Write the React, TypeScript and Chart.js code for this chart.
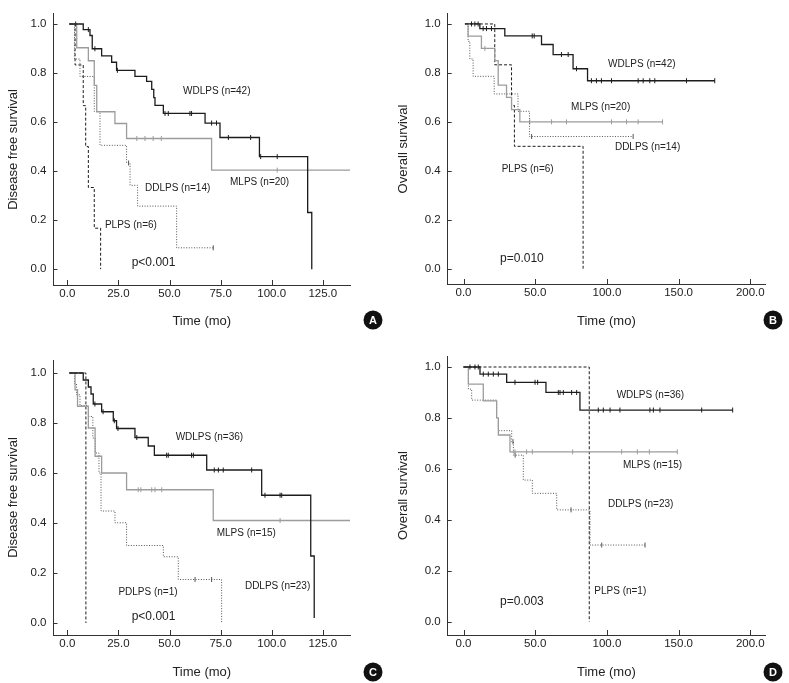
import React, { useEffect, useRef } from "react";
import { Chart, registerables } from "chart.js";
Chart.register(...registerables);

const FONT = "'Liberation Sans', Arial, Helvetica, sans-serif";

// ---------- shared tick values ----------
const Y_TICKS = [0, 0.2, 0.4, 0.6, 0.8, 1.0];
const X_TICKS_DFS = [0, 25, 50, 75, 100, 125];
const X_TICKS_OS = [0, 50, 100, 150, 200];

// ---------- Panel A : disease free survival, cohort 1 ----------
const A_WD_T = [1, 7.8, 11.1, 12.2, 16.8, 21.7, 24.1, 33.1, 38.8, 41.3, 42.3, 42.9, 47, 67.4, 74.7, 94, 117.6, 119.6];
const A_WD_S = [1, 0.977, 0.953, 0.899, 0.87, 0.844, 0.811, 0.786, 0.766, 0.733, 0.7, 0.668, 0.635, 0.596, 0.537, 0.459, 0.231, 0];
const A_WD_C = [4.1, 10.3, 13.5, 24.5, 47.8, 49.4, 60, 60.8, 70.6, 73, 78.8, 89.7, 94.6, 102.7];
const A_ML_T = [1, 4.6, 10.3, 13.2, 14.4, 23.3, 29, 70.6, 139];
const A_ML_S = [1, 0.903, 0.85, 0.75, 0.642, 0.594, 0.533, 0.404, 0.404];
const A_ML_C = [34, 38, 42, 46, 102.7, 139];
const A_DD_T = [1, 3.5, 6.2, 13.2, 16, 29, 30.7, 34.4, 53.5, 71.4];
const A_DD_S = [1, 0.857, 0.786, 0.643, 0.505, 0.433, 0.342, 0.257, 0.087, 0.087];
const A_DD_C = [30, 71.4];
const A_PL_T = [1, 3.8, 7.8, 9, 10.3, 13.2, 16.3];
const A_PL_S = [1, 0.833, 0.667, 0.5, 0.333, 0.167, 0];

// ---------- Panel B : overall survival, cohort 1 ----------
const B_WD_T = [1, 11.4, 28.8, 54.4, 62.5, 76.4, 86.5, 175.2];
const B_WD_S = [1, 0.981, 0.951, 0.916, 0.875, 0.817, 0.768, 0.768];
const B_WD_C = [5.6, 7.9, 10.2, 13.7, 16, 19.5, 47.9, 49.3, 68.3, 73, 78.8, 89.2, 92.7, 96.2, 103.2, 121.8, 125.3, 129.9, 133.4, 155.5, 175.2];
const B_ML_T = [1, 3.2, 12.5, 21.8, 24.2, 30, 33.5, 39.3, 138.8];
const B_ML_S = [1, 0.95, 0.9, 0.85, 0.75, 0.7, 0.65, 0.6, 0.6];
const B_ML_C = [14.9, 46.2, 61.4, 71.8, 103.2, 113.7, 121.8, 138.8];
const B_DD_T = [1, 3.2, 4.4, 6.7, 21.4, 38, 46, 118.3];
const B_DD_S = [1, 0.929, 0.857, 0.786, 0.714, 0.643, 0.54, 0.54];
const B_DD_C = [47.5, 118.3];
const B_PL_T = [1, 21.8, 33.5, 35.5, 83.4];
const B_PL_S = [1, 0.833, 0.667, 0.5, 0];

// ---------- Panel C : disease free survival, cohort 2 ----------
const C_WD_T = [1, 7.8, 10.3, 11.6, 12.7, 16.8, 22.5, 24.1, 33.1, 39.6, 42.6, 68.2, 95.1, 119.1, 120.8];
const C_WD_S = [1, 0.972, 0.944, 0.916, 0.876, 0.845, 0.809, 0.778, 0.742, 0.708, 0.671, 0.612, 0.511, 0.268, 0.02];
const C_WD_C = [13.5, 17.5, 23, 24.8, 34, 48.6, 49.4, 60.8, 61.7, 71.9, 73.9, 76.3, 90.2, 96.7, 104.1, 104.9];
const C_ML_T = [1, 3.8, 5, 10.3, 13.6, 16.8, 29, 71.4, 140];
const C_ML_S = [1, 0.933, 0.867, 0.78, 0.667, 0.6, 0.533, 0.41, 0.41];
const C_ML_C = [34.7, 36, 41.3, 42.9, 46.2, 104.1, 140];
const C_DD_T = [1, 3.5, 4.5, 6.2, 10.3, 12.5, 13.7, 15.5, 16.5, 23.3, 29, 47, 54.3, 75.5];
const C_DD_S = [1, 0.957, 0.913, 0.87, 0.826, 0.74, 0.68, 0.6, 0.448, 0.401, 0.31, 0.265, 0.174, 0];
const C_DD_C = [62.5, 70.6];
const C_PD_T = [1, 9.1];
const C_PD_S = [1, 0];

// ---------- Panel D : overall survival, cohort 2 ----------
const D_WD_T = [0, 11.5, 30.1, 57.5, 81.2, 187.7];
const D_WD_S = [1, 0.972, 0.94, 0.9, 0.831, 0.831];
const D_WD_C = [4.5, 8, 10.3, 13.8, 17.3, 20.8, 24.3, 35.9, 49.9, 51.7, 66.1, 67.3, 69.6, 75.4, 78.9, 94, 97.5, 102.2, 109.1, 130, 132.4, 137, 166.1, 187.7];
const D_ML_T = [0, 3.4, 13.8, 23.1, 24.3, 32.4, 149.1];
const D_ML_S = [1, 0.933, 0.867, 0.8, 0.733, 0.667, 0.667];
const D_ML_C = [35.9, 44, 48, 76.1, 110.3, 121.2, 129.6, 149.1];
const D_DD_T = [0, 3.4, 5.7, 23.1, 24.3, 33.6, 34.8, 41.7, 48, 65, 88.2, 126.6];
const D_DD_S = [1, 0.913, 0.87, 0.8, 0.75, 0.707, 0.654, 0.556, 0.504, 0.439, 0.301, 0.301];
const D_DD_C = [34.5, 36, 75, 96.4, 126.6];
const D_PL_T = [0, 87.7];
const D_PL_S = [1, 0];

// ---------- styles ----------
const STYLE = {
  wd: { color: "#1c1c1c", width: 1.3, dash: [] as number[] },
  ml: { color: "#9c9c9c", width: 1.3, dash: [] as number[] },
  dd: { color: "#555555", width: 1, dash: [1, 1.6] },
  pl: { color: "#1c1c1c", width: 1, dash: [3, 2] },
};

type Series = { t: number[]; s: number[]; c: number[]; st: { color: string; width: number; dash: number[] } };
type Label = { text: string; x: number; y: number; size: number };
type PanelCfg = {
  box: { x: number; y: number; w: number; h: number };
  area: { l: number; r: number; t: number; b: number };
  x0: number; xu: number; y1: number; y0: number;
  xTicks: number[]; yTitle: string;
  series: Series[]; labels: Label[]; badge: string; badgePos: [number, number];
  yTitleX: number; xTitleY: number;
};

const PANELS: PanelCfg[] = [
  {
    box: { x: 0, y: 0, w: 394, h: 341 },
    area: { l: 53.5, r: 350, t: 3, b: 285 },
    x0: 67.3, xu: 2.044, y1: 13.5, y0: 268.5,
    xTicks: X_TICKS_DFS, yTitle: "Disease free survival",
    series: [
      { t: A_WD_T, s: A_WD_S, c: A_WD_C, st: STYLE.wd },
      { t: A_ML_T, s: A_ML_S, c: A_ML_C, st: STYLE.ml },
      { t: A_DD_T, s: A_DD_S, c: A_DD_C, st: STYLE.dd },
      { t: A_PL_T, s: A_PL_S, c: [], st: STYLE.pl },
    ],
    labels: [
      { text: "WDLPS (n=42)", x: 56.6, y: 0.727, size: 10 },
      { text: "MLPS (n=20)", x: 79.6, y: 0.355, size: 10 },
      { text: "DDLPS (n=14)", x: 38, y: 0.331, size: 10 },
      { text: "PLPS (n=6)", x: 18.4, y: 0.178, size: 10 },
      { text: "p<0.001", x: 31.5, y: 0.025, size: 12 },
    ],
    badge: "A", badgePos: [373, 320], yTitleX: 13, xTitleY: 321,
  },
  {
    box: { x: 394, y: 0, w: 395, h: 341 },
    area: { l: 447.7, r: 765, t: 2, b: 284 },
    x0: 463.5, xu: 1.434, y1: 12.5, y0: 268,
    xTicks: X_TICKS_OS, yTitle: "Overall survival",
    series: [
      { t: B_WD_T, s: B_WD_S, c: B_WD_C, st: STYLE.wd },
      { t: B_ML_T, s: B_ML_S, c: B_ML_C, st: STYLE.ml },
      { t: B_DD_T, s: B_DD_S, c: B_DD_C, st: STYLE.dd },
      { t: B_PL_T, s: B_PL_S, c: [], st: STYLE.pl },
    ],
    labels: [
      { text: "WDLPS (n=42)", x: 100.8, y: 0.834, size: 10 },
      { text: "MLPS (n=20)", x: 75, y: 0.658, size: 10 },
      { text: "DDLPS (n=14)", x: 105.6, y: 0.497, size: 10 },
      { text: "PLPS (n=6)", x: 26.6, y: 0.407, size: 10 },
      { text: "p=0.010", x: 25.5, y: 0.039, size: 12 },
    ],
    badge: "B", badgePos: [773, 320], yTitleX: 403.5, xTitleY: 321,
  },
  {
    box: { x: 0, y: 341, w: 394, h: 342 },
    area: { l: 53.5, r: 350, t: 360, b: 635 },
    x0: 67.3, xu: 2.044, y1: 373, y0: 623,
    xTicks: X_TICKS_DFS, yTitle: "Disease free survival",
    series: [
      { t: C_WD_T, s: C_WD_S, c: C_WD_C, st: STYLE.wd },
      { t: C_ML_T, s: C_ML_S, c: C_ML_C, st: STYLE.ml },
      { t: C_DD_T, s: C_DD_S, c: C_DD_C, st: STYLE.dd },
      { t: C_PD_T, s: C_PD_S, c: [], st: STYLE.pl },
    ],
    labels: [
      { text: "WDLPS (n=36)", x: 53, y: 0.745, size: 10 },
      { text: "MLPS (n=15)", x: 73.1, y: 0.361, size: 10 },
      { text: "DDLPS (n=23)", x: 86.9, y: 0.148, size: 10 },
      { text: "PDLPS (n=1)", x: 25, y: 0.124, size: 10 },
      { text: "p<0.001", x: 31.5, y: 0.024, size: 12 },
    ],
    badge: "C", badgePos: [373, 672], yTitleX: 13, xTitleY: 672,
  },
  {
    box: { x: 394, y: 341, w: 395, h: 342 },
    area: { l: 447.7, r: 765, t: 356, b: 635 },
    x0: 463.5, xu: 1.434, y1: 367, y0: 621.7,
    xTicks: X_TICKS_OS, yTitle: "Overall survival",
    series: [
      { t: D_WD_T, s: D_WD_S, c: D_WD_C, st: STYLE.wd },
      { t: D_ML_T, s: D_ML_S, c: D_ML_C, st: STYLE.ml },
      { t: D_DD_T, s: D_DD_S, c: D_DD_C, st: STYLE.dd },
      { t: D_PL_T, s: D_PL_S, c: [], st: STYLE.pl },
    ],
    labels: [
      { text: "WDLPS (n=36)", x: 106.8, y: 0.89, size: 10 },
      { text: "MLPS (n=15)", x: 111.2, y: 0.615, size: 10 },
      { text: "DDLPS (n=23)", x: 100.8, y: 0.462, size: 10 },
      { text: "PLPS (n=1)", x: 91.2, y: 0.118, size: 10 },
      { text: "p=0.003", x: 25.5, y: 0.077, size: 12 },
    ],
    badge: "D", badgePos: [773, 672], yTitleX: 403.5, xTitleY: 672,
  },
];

function stepAt(t: number[], s: number[], x: number) {
  let v = s[0];
  for (let i = 0; i < t.length; i++) {
    if (t[i] <= x) v = s[i];
    else break;
  }
  return v;
}

function Panel({ cfg }: { cfg: PanelCfg }) {
  const ref = useRef<HTMLCanvasElement>(null);
  useEffect(() => {
    const canvas = ref.current!;
    const { box, area } = cfg;
    const L = area.l - box.x, R = area.r - box.x, T = area.t - box.y, B = area.b - box.y;
    const xMin = (area.l - cfg.x0) / cfg.xu;
    const xMax = (area.r - cfg.x0) / cfg.xu;
    const yu = cfg.y0 - cfg.y1;
    const yMax = (cfg.y0 - area.t) / yu;
    const yMin = (cfg.y0 - area.b) / yu;

    const datasets: any[] = [];
    cfg.series.forEach((se) => {
      datasets.push({
        data: se.t.map((t, i) => ({ x: t, y: se.s[i] })),
        borderColor: se.st.color,
        borderWidth: se.st.width,
        borderDash: se.st.dash,
        stepped: "before",
        pointRadius: 0,
        fill: false,
        tension: 0,
      });
    });
    cfg.series.forEach((se) => {
      if (!se.c.length) return;
      datasets.push({
        data: se.c.map((t) => ({ x: t, y: stepAt(se.t, se.s, t) })),
        showLine: false,
        pointStyle: "line",
        pointRotation: 90,
        pointRadius: 2.5,
        pointBorderWidth: 1,
        pointBorderColor: se.st.color,
        pointBackgroundColor: se.st.color,
      });
    });

    const titleFont = { family: FONT, size: 13 };
    const tickFont = { family: FONT, size: 11.5 };
    const lh = 13 * 1.2;

    const decor = {
      id: "decor" + cfg.badge,
      beforeDatasetsDraw(chart: any) {
        const { ctx, chartArea } = chart;
        const xs = chart.scales.x, ys = chart.scales.y;
        ctx.save();
        ctx.strokeStyle = "#333";
        ctx.lineWidth = 1;
        ctx.beginPath();
        xs.ticks.forEach((tk: any) => {
          const px = Math.round(xs.getPixelForValue(tk.value)) + 0.5;
          ctx.moveTo(px, chartArea.bottom);
          ctx.lineTo(px, chartArea.bottom - 5);
        });
        ys.ticks.forEach((tk: any) => {
          const py = Math.round(ys.getPixelForValue(tk.value)) + 0.5;
          ctx.moveTo(chartArea.left, py);
          ctx.lineTo(chartArea.left + 4, py);
        });
        ctx.stroke();
        ctx.restore();
      },
      afterDatasetsDraw(chart: any) {
        const { ctx } = chart;
        const xs = chart.scales.x, ys = chart.scales.y;
        ctx.save();
        ctx.fillStyle = "#222";
        ctx.textAlign = "left";
        ctx.textBaseline = "middle";
        cfg.labels.forEach((lb) => {
          ctx.font = `${lb.size}px ${FONT}`;
          ctx.fillText(lb.text, xs.getPixelForValue(lb.x), ys.getPixelForValue(lb.y));
        });
        const bx = cfg.badgePos[0] - box.x, by = cfg.badgePos[1] - box.y;
        ctx.beginPath();
        ctx.fillStyle = "#111";
        ctx.arc(bx, by, 9.5, 0, Math.PI * 2);
        ctx.fill();
        ctx.fillStyle = "#fff";
        ctx.textAlign = "center";
        ctx.font = `bold 11px ${FONT}`;
        ctx.fillText(cfg.badge, bx, by + 0.5);
        ctx.restore();
      },
    };

    const chart = new Chart(canvas, {
      type: "line",
      data: { datasets },
      options: {
        responsive: false,
        animation: false,
        devicePixelRatio: 1,
        layout: { padding: { left: 0, top: T, right: box.w - R, bottom: 0 } },
        plugins: { legend: { display: false }, tooltip: { enabled: false } },
        scales: {
          x: {
            type: "linear",
            min: xMin,
            max: xMax,
            grid: { display: false, drawTicks: false },
            border: { display: true, color: "#333", width: 1 },
            afterBuildTicks: (sc: any) => {
              sc.ticks = cfg.xTicks.map((v) => ({ value: v }));
            },
            afterFit: (sc: any) => {
              sc.height = box.h - B;
            },
            ticks: {
              autoSkip: false,
              maxRotation: 0,
              padding: 2,
              color: "#222",
              font: tickFont,
              callback: (v: any) => Number(v).toFixed(1),
            },
            title: {
              display: true,
              text: "Time (mo)",
              color: "#222",
              font: titleFont,
              padding: { top: 0, bottom: box.h - (cfg.xTitleY - box.y) - lh / 2 },
            },
          },
          y: {
            type: "linear",
            min: yMin,
            max: yMax,
            grid: { display: false, drawTicks: false },
            border: { display: true, color: "#333", width: 1 },
            afterBuildTicks: (sc: any) => {
              sc.ticks = Y_TICKS.map((v) => ({ value: v }));
            },
            afterFit: (sc: any) => {
              sc.width = L;
            },
            ticks: {
              padding: 7,
              color: "#222",
              font: tickFont,
              callback: (v: any) => Number(v).toFixed(1),
            },
            title: {
              display: true,
              text: cfg.yTitle,
              color: "#222",
              font: titleFont,
              padding: { top: cfg.yTitleX - box.x - lh / 2, bottom: 0 },
            },
          },
        },
      } as any,
      plugins: [decor],
    });
    return () => chart.destroy();
  }, []);
  return (
    <canvas
      ref={ref}
      width={cfg.box.w}
      height={cfg.box.h}
      style={{ position: "absolute", left: cfg.box.x, top: cfg.box.y, width: cfg.box.w, height: cfg.box.h }}
    />
  );
}

export default function App() {
  return (
    <div style={{ position: "absolute", left: 0, top: 0, width: 789, height: 683, background: "#fff" }}>
      {PANELS.map((p) => (
        <Panel key={p.badge} cfg={p} />
      ))}
    </div>
  );
}
